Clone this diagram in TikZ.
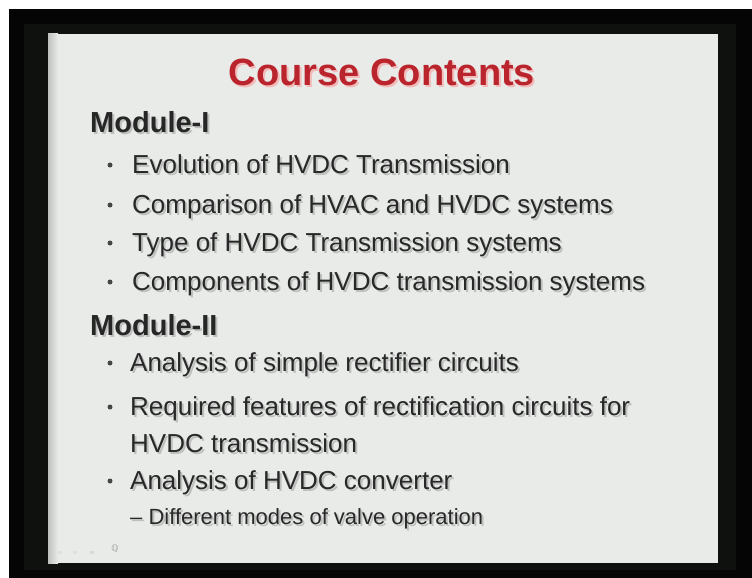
\documentclass[tikz,border=0pt]{standalone}
\usepackage{fontspec}
\setmainfont{Liberation Sans}
\newfontfamily\iconfont{DejaVu Sans}
\definecolor{framebk}{RGB}{4,5,4}
\definecolor{frameband}{RGB}{14,17,14}
\definecolor{slidebg}{RGB}{233,235,233}
\definecolor{txtgray}{RGB}{40,40,40}
\definecolor{titlered}{RGB}{186,36,44}
\definecolor{bulletgray}{RGB}{70,70,70}
\newcommand\slideline[4]{%
  \node[#2, shadowtxt] at ([shift={(2,2)}]#1) {#4};
  \node[#2] (#3) at (#1) {#4};}
\begin{document}
\begin{tikzpicture}[x=1pt,y=-1pt,
  body/.style={anchor=base west, inner sep=0pt, text=txtgray,
    font=\fontsize{26}{30}\selectfont},
  subbody/.style={anchor=base west, inner sep=0pt, text=txtgray,
    font=\fontsize{22}{26}\selectfont},
  modhead/.style={anchor=base west, inner sep=0pt, text=black!85,
    font=\fontsize{29}{34}\selectfont\bfseries},
  titletxt/.style={anchor=base, inner sep=0pt, text=titlered,
    font=\fontsize{38}{44}\selectfont\bfseries},
  shadowtxt/.style={text=black, text opacity=0.18},
  bulletdot/.style={circle, fill=bulletgray, inner sep=0pt, minimum size=5pt},
  navmark/.style={fill=gray!45, inner sep=0pt, minimum width=4pt, minimum height=3pt}]
\useasboundingbox (0,0) rectangle (752,578);
\fill[white] (0,0) rectangle (752,578);
\fill[framebk] (9,9) rectangle (752,578);
\fill[frameband] (24,24) rectangle (736,570);
\fill[slidebg] (48,34) rectangle (718,563);
\shade[left color=gray!40!slidebg, right color=slidebg] (48,34) rectangle (58,563);
% title
\node[titletxt, text=red!55, text opacity=0.4] at (384,87) {Course Contents};
\node[titletxt] (title) at (382,85) {Course Contents};
% module I
\slideline{90,132}{modhead}{m1}{Module-I}
\slideline{132,173}{body}{l1}{Evolution of HVDC Transmission}
\slideline{132,213}{body}{l2}{Comparison of HVAC and HVDC systems}
\slideline{132,251}{body}{l3}{Type of HVDC Transmission systems}
\slideline{132,290}{body}{l4}{Components of HVDC transmission systems}
% module II
\slideline{90,335}{modhead}{m2}{Module-II}
\slideline{130,371}{body}{l5}{Analysis of simple rectifier circuits}
\slideline{130,415}{body}{l6}{Required features of rectification circuits for}
\slideline{130,452}{body}{l7}{HVDC transmission}
\slideline{130,489}{body}{l8}{Analysis of HVDC converter}
\slideline{130,524}{subbody}{l9}{– Different modes of valve operation}
% bullets
\node[bulletdot] (b1) at (110,165) {};
\node[bulletdot] (b2) at (110,205) {};
\node[bulletdot] (b3) at (110,243) {};
\node[bulletdot] (b4) at (110,282) {};
\node[bulletdot] (b5) at (110,363) {};
\node[bulletdot] (b6) at (110,407) {};
\node[bulletdot] (b7) at (110,481) {};
% navigation marks
\node[navmark, fill=gray!25] (n1) at (60,552) {};
\node[navmark, fill=gray!25] (n2) at (75,552) {};
\node[navmark, fill=gray!30] (n3) at (92,552) {};
\node[inner sep=0pt, text=gray!75, font=\iconfont\fontsize{9}{9}\selectfont] (n4) at (115,549) {ℚ};
\end{tikzpicture}
\end{document}
